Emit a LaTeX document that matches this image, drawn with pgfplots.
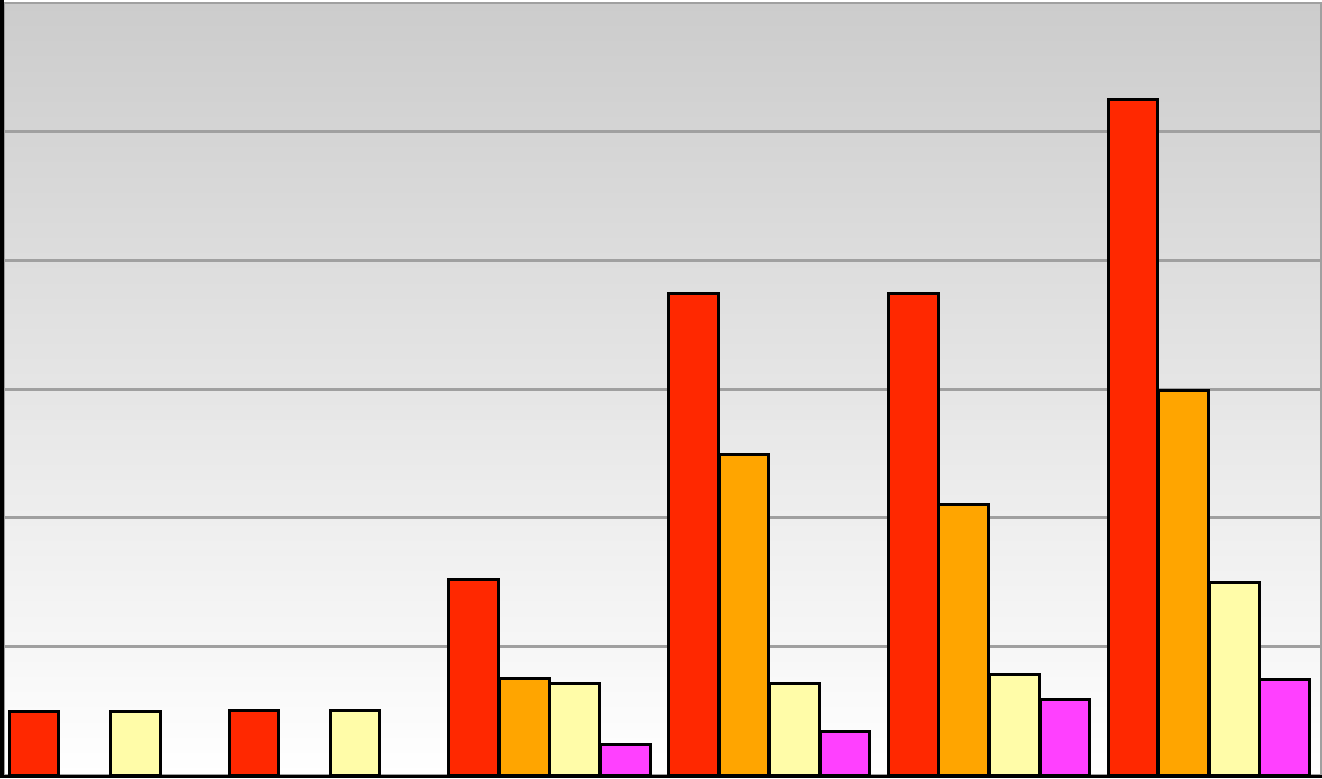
\documentclass[border=0pt]{standalone}
\usepackage{pgfplots}
\pgfplotsset{compat=1.18}
\definecolor{cred}{HTML}{FF2800}
\definecolor{corange}{HTML}{FFA500}
\definecolor{cyellow}{HTML}{FFFCA8}
\definecolor{cmag}{HTML}{FF40FF}
\definecolor{gridc}{HTML}{A0A0A0}
\begin{document}
\begin{tikzpicture}[x=1cm,y=1cm]
\path[use as bounding box] (0,0) rectangle (13.22,7.78);
\begin{axis}[at={(0.04cm,0.03cm)}, anchor=south west, scale only axis,
  width=13.17cm, height=7.72cm,
  xmin=-0.482, xmax=5.51, ymin=0, ymax=6,
  ytick={1,2,3,4,5}, xtick=\empty, yticklabels={},
  ymajorgrids, major grid style={gridc, line width=0.85pt},
  major tick length=0pt,
  axis line style={gridc, line width=0.7pt},
  axis background/.style={top color=black!20, bottom color=white}]
\addplot[ybar, bar width=0.226, bar shift=-0.345, fill=cred, draw=black, line width=0.85pt]
  coordinates {(0,0.49)(1,0.505)(2,1.52)(3,3.74)(4,3.74)(5,5.25)};
\addplot[ybar, bar width=0.226, bar shift=-0.115, fill=corange, draw=black, line width=0.85pt]
  coordinates {(2,0.75)(3,2.49)(4,2.10)(5,2.99)};
\addplot[ybar, bar width=0.226, bar shift=0.115, fill=cyellow, draw=black, line width=0.85pt]
  coordinates {(0,0.49)(1,0.505)(2,0.71)(3,0.71)(4,0.78)(5,1.50)};
\addplot[ybar, bar width=0.226, bar shift=0.345, fill=cmag, draw=black, line width=0.85pt]
  coordinates {(2,0.24)(3,0.34)(4,0.59)(5,0.74)};
\end{axis}
\draw[line width=0.04cm] (0.02,0) -- (0.02,7.78);
\draw[line width=0.03cm] (0,0.015) -- (13.22,0.015);
\end{tikzpicture}
\end{document}
